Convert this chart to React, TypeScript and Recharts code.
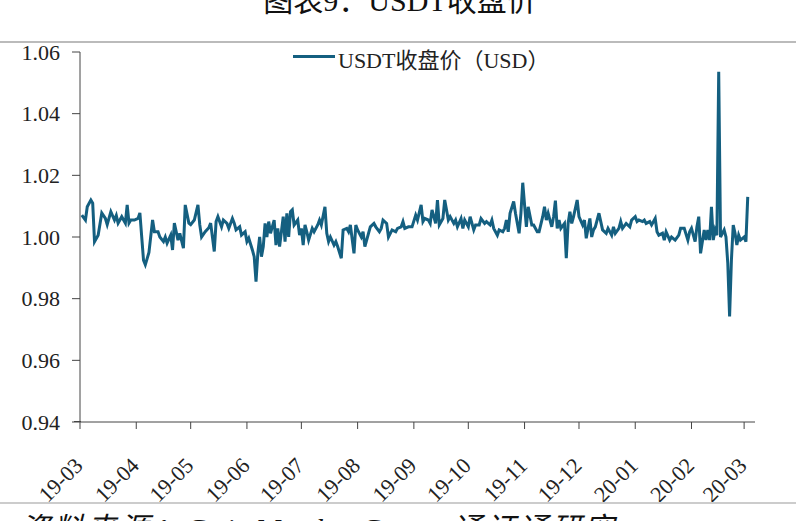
import { LineChart, Line, XAxis, YAxis } from "recharts"

// days counted from 2019-03-01
const days = [
  1, 3, 4, 6, 7, 8, 10, 12, 14, 15, 17, 19, 20, 21, 23, 25, 26, 27, 28, 30,
  32, 33, 34, 35, 36, 37, 38, 40, 41, 43, 44, 46, 47, 48, 50, 51, 52, 54, 55, 57,
  58, 60, 61, 63, 65, 66, 67, 69, 71, 72, 74, 75, 76, 78, 79, 81, 82, 84, 85, 86,
  88, 89, 91, 92, 93, 95, 96, 97, 98, 99, 100, 101, 102, 103, 104, 105, 107, 108, 109, 110,
  112, 113, 114, 115, 116, 117, 118, 120, 121, 122, 123, 124, 125, 126, 128, 129, 131, 132, 133, 135,
  136, 137, 138, 140, 141, 142, 144, 145, 147, 148, 149, 151, 152, 153, 155, 156, 157, 159, 160, 162,
  163, 165, 166, 167, 169, 170, 172, 174, 175, 177, 178, 179, 181, 183, 185, 186, 188, 189, 190, 192,
  193, 194, 196, 197, 198, 200, 201, 203, 204, 206, 207, 208, 210, 211, 212, 214, 215, 217, 218, 220,
  221, 223, 224, 226, 227, 228, 230, 231, 233, 234, 235, 236, 237, 239, 240, 242, 243, 244, 246, 247,
  249, 250, 252, 253, 255, 256, 257, 258, 260, 261, 262, 263, 264, 265, 267, 268, 269, 270, 271, 272,
  274, 275, 277, 278, 279, 281, 282, 283, 284, 286, 287, 288, 290, 291, 293, 294, 295, 297, 298, 299,
  301, 303, 304, 306, 307, 308, 310, 311, 312, 314, 315, 317, 318, 319, 321, 322, 323, 325, 326, 328,
  330, 331, 333, 335, 336, 337, 339, 340, 341, 342, 344, 345, 346, 347, 348, 349, 350, 351, 352, 353,
  355, 356, 357, 358, 359, 360, 361, 362, 363, 364, 366, 367, 368,
]

const prices = [
  1.0071, 1.0055, 1.0098, 1.012, 1.011, 0.9985, 1.0006, 1.0078, 1.006, 1.004, 1.0082, 1.0055, 1.007, 1.0045, 1.0066, 1.0045, 1.0104, 1.0045, 1.0055, 1.0055,
  1.006, 1.0078, 1.0001, 0.9925, 0.991, 0.993, 0.995, 1.0055, 1.0017, 1.0017, 1.0, 0.9985, 1.0, 0.998, 1.0006, 0.9958, 1.0045, 0.999, 1.0012, 0.9964,
  1.0104, 1.0045, 1.004, 1.0055, 1.0104, 1.004, 1.0, 1.0017, 1.003, 1.0045, 0.9953, 1.005, 1.0066, 1.0033, 1.0055, 1.0044, 1.0028, 1.006, 1.0045, 1.0023,
  1.0033, 1.0006, 1.0017, 0.9985, 0.9996, 0.9958, 0.9936, 0.9855, 0.9947, 1.0, 0.9936, 0.9969, 1.0044, 1.0, 1.005, 1.0012, 1.0055, 0.9974, 1.0028, 0.9969,
  1.0066, 0.9985, 1.0077, 1.0, 1.0082, 1.0088, 1.0039, 1.0055, 1.0006, 1.0028, 0.9974, 1.0039, 1.0017, 0.999, 1.0028, 1.0017, 1.0039, 1.0055, 1.0039, 1.0098,
  1.0012, 0.9985, 1.0, 0.9974, 0.9985, 0.9969, 0.9931, 1.0023, 1.0028, 1.0017, 1.0039, 0.9947, 1.0039, 1.0023, 1.0, 1.0017, 0.9969, 1.0012, 1.0033, 1.0044,
  1.0033, 1.0017, 1.0028, 1.0055, 1.0044, 1.0, 1.0023, 1.0017, 1.0028, 1.0033, 1.005, 1.0028, 1.0033, 1.0033, 1.0071, 1.0055, 1.0104, 1.005, 1.006, 1.0055,
  1.0044, 1.0088, 1.0044, 1.012, 1.0039, 1.006, 1.012, 1.0055, 1.0066, 1.0044, 1.0055, 1.0033, 1.006, 1.0028, 1.0055, 1.0033, 1.0066, 1.0023, 1.0039, 1.0039,
  1.006, 1.0044, 1.005, 1.0039, 1.0055, 1.0028, 1.0006, 1.0023, 1.0017, 1.0028, 1.0055, 1.0017, 1.0077, 1.0115, 1.0077, 1.0012, 1.0077, 1.0176, 1.0033, 1.0098,
  1.0039, 1.0039, 1.0017, 1.0017, 1.0066, 1.0098, 1.0055, 1.0077, 1.0033, 1.0066, 1.0118, 1.0028, 1.0055, 1.0028, 1.0044, 0.9931, 1.0044, 1.0082, 1.0044, 1.0066,
  1.012, 1.0066, 1.0039, 1.0055, 0.9996, 1.006, 1.0, 1.0023, 1.0033, 1.0077, 1.005, 1.0023, 1.0012, 1.0028, 1.0006, 1.0033, 1.0012, 1.0028, 1.005, 1.0028,
  1.0044, 1.0033, 1.0055, 1.0066, 1.005, 1.0055, 1.005, 1.0055, 1.0044, 1.005, 1.0039, 1.006, 1.0017, 1.0006, 1.0012, 0.999, 1.0017, 0.999, 1.0, 0.999,
  1.0006, 1.0028, 1.0028, 0.999, 1.0017, 1.0028, 0.9985, 1.0033, 1.0066, 0.9947, 1.0023, 0.999, 1.0023, 0.999, 1.0098, 0.999, 1.0023, 1.0006, 1.0536, 1.0,
  1.0023, 1.0, 0.9915, 0.9742, 0.9925, 1.0039, 1.0012, 0.9974, 1.0006, 0.999, 1.0, 0.9985, 1.013,
]

const monthTicks = [0, 31, 61, 92, 122, 153, 184, 214, 245, 275, 306, 337, 366]
const monthLabels = [
  "19-03", "19-04", "19-05", "19-06", "19-07", "19-08", "19-09",
  "19-10", "19-11", "19-12", "20-01", "20-02", "20-03",
]
const yTicks = [0.94, 0.96, 0.98, 1.0, 1.02, 1.04, 1.06]

const data = days.map((d, i) => ({ day: d, price: prices[i] }))

const serif = '"Liberation Serif", "Noto Sans CJK SC", serif'
const lineColor = "#145f80"

const MonthTick = ({ x, y, payload }: any) => {
  const i = monthTicks.indexOf(payload.value)
  return (
    <g transform={`translate(${x + 4}, ${y + 36}) rotate(-45)`}>
      <text
        x={0}
        y={0}
        textAnchor="end"
        style={{ fontFamily: serif, fontSize: 22, fill: "#222" }}
      >
        {monthLabels[i]}
      </text>
    </g>
  )
}

export default function App() {
  return (
    <div style={{ position: "absolute", left: 0, top: 0, width: 800, height: 521, background: "#fff", overflow: "hidden" }}>
      <div style={{ position: "absolute", left: 0, right: 0, top: -24, textAlign: "center", fontFamily: serif, fontSize: 30, color: "#111", whiteSpace: "nowrap" }}>
        图表9：USDT收盘价
      </div>
      <div style={{ position: "absolute", left: 0, width: 796, top: 41, height: 2, background: "#bbb" }} />

      <LineChart width={800} height={521} data={data} margin={{ top: 52, right: 45, bottom: 0, left: 0 }}>
        <XAxis
          dataKey="day"
          type="number"
          domain={[0, 372]}
          ticks={monthTicks}
          interval={0}
          tick={<MonthTick />}
          tickSize={7}
          height={99}
          stroke="#444"
          allowDataOverflow
        />
        <YAxis
          type="number"
          domain={[0.94, 1.06]}
          ticks={yTicks}
          interval={0}
          width={80}
          tickSize={8}
          tickMargin={12}
          tickFormatter={(v: number) => v.toFixed(2)}
          stroke="#444"
          tick={{ fill: "#222", fontSize: 22, fontFamily: serif }}
          allowDataOverflow
        />
        <Line
          type="linear"
          dataKey="price"
          stroke={lineColor}
          strokeWidth={3}
          dot={false}
          isAnimationActive={false}
        />
      </LineChart>

      <div style={{ position: "absolute", left: 74, top: 421, width: 7, height: 1, background: "#444" }} />

      <div style={{ position: "absolute", left: 293, top: 55, width: 42, height: 3, background: lineColor }} />
      <div style={{ position: "absolute", left: 338, top: 42, fontFamily: serif, fontSize: 22, color: "#222", whiteSpace: "nowrap" }}>
        USDT收盘价（USD）
      </div>

      <div style={{ position: "absolute", left: 0, width: 796, top: 502, height: 2, background: "#ccc" }} />
      <div style={{ position: "absolute", left: 20, top: 504, fontFamily: serif, fontSize: 30, fontStyle: "italic", color: "#111", whiteSpace: "nowrap", letterSpacing: 3 }}>
        资料来源：CoinMarketCap，通证通研究
      </div>
    </div>
  )
}
